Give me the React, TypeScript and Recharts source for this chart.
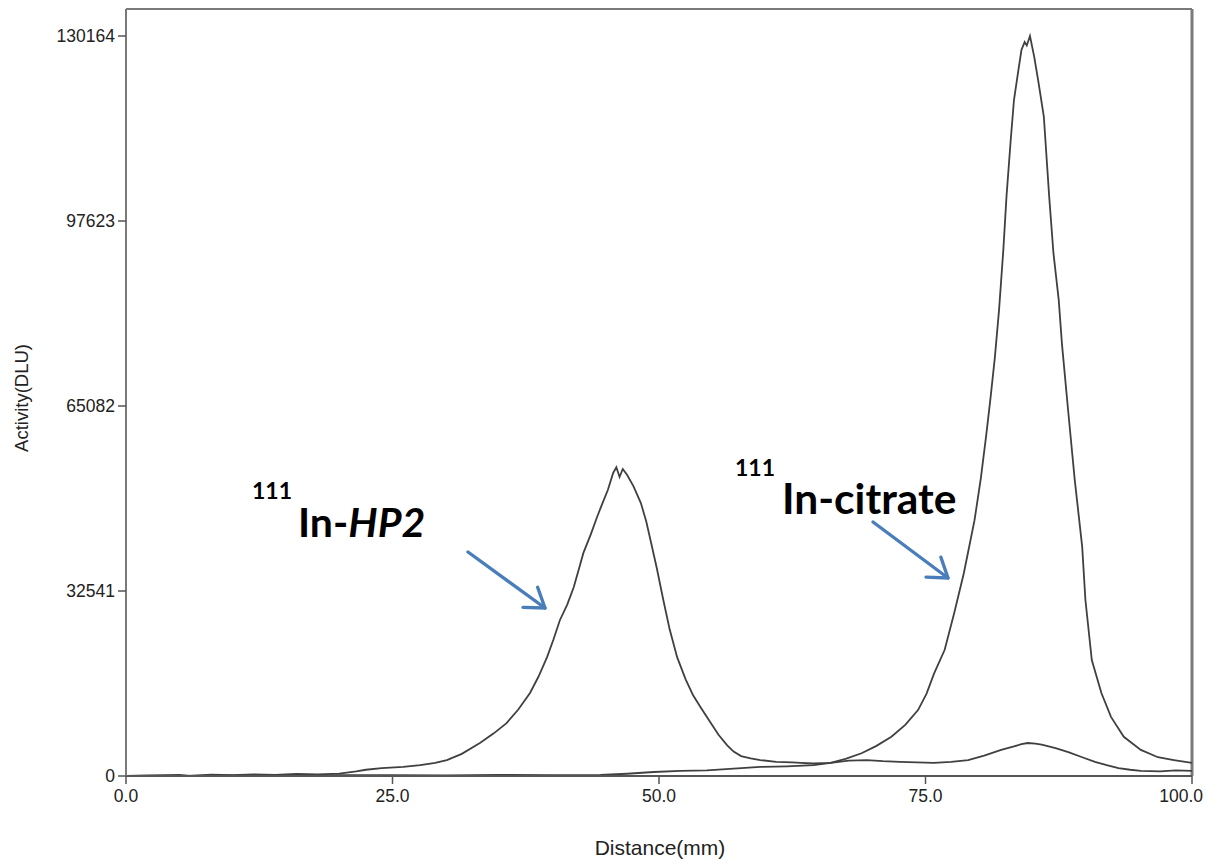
import { CartesianGrid, Line, LineChart, ReferenceLine, XAxis, YAxis } from "recharts";

// radio-TLC scan, distance (mm) vs activity (DLU)
const hp2Distance = [
  0, 2, 5, 6, 8, 10, 12, 14, 16, 18, 20, 21.6, 22.5, 24, 26, 27.6, 29, 30.1, 31.5, 33.2,
  34.5, 35.7, 36.8, 37.9, 38.7, 39.5, 40.1, 40.7, 41.4, 42, 42.5, 42.9, 43.6, 44.2, 44.7,
  45.2, 45.7, 46, 46.3, 46.6, 47, 47.6, 48.3, 48.8, 49.2, 49.8, 50.4, 51, 51.7, 52.5, 53.2,
  53.9, 54.8, 55.6, 56.4, 57, 57.7, 58.6, 59.5, 61, 62.5, 63.3, 64.5, 66.1, 67.8, 69.5, 71,
  72.6, 74.2, 75.8, 77.4, 79, 80.5, 82.1, 83.3, 84, 84.6, 85.3, 85.9, 87.2, 88.4, 89.7, 90.9,
  92, 93.1, 94.2, 95.2, 97, 98.5, 100,
];
const hp2Activity = [
  0, 100, 200, 0, 250, 150, 300, 200, 350, 300, 400, 800, 1100, 1400, 1600, 1900, 2300, 2800,
  3900, 5800, 7500, 9300, 11700, 14600, 17500, 20900, 24000, 27400, 30200, 33200, 36500, 39200,
  42500, 45600, 48000, 50300, 53300, 54300, 52600, 54000, 53000, 51000, 48000, 44800, 41500,
  36500, 31000, 25800, 20900, 17000, 14200, 12100, 9500, 7200, 5400, 4300, 3500, 3100, 2800,
  2500, 2400, 2300, 2200, 2300, 2700, 2800, 2600, 2500, 2400, 2300, 2500, 2800, 3600, 4600,
  5200, 5600, 5800, 5700, 5500, 4900, 4200, 3300, 2500, 1900, 1400, 1100, 900, 800, 1000, 900,
];

const citrateDistance = [
  0, 5, 10, 15, 20, 25, 30, 35, 40, 44.5, 47, 49.5, 52, 54.5, 57, 59.5, 62, 64.5, 66.1, 67.5,
  69, 70.4, 71.8, 73.1, 74.3, 75.1, 75.8, 76.8, 77.7, 78.6, 79.6, 80.2, 80.7, 81.1, 81.5, 81.9,
  82.3, 82.6, 83, 83.3, 83.7, 84, 84.3, 84.5, 84.8, 85.2, 85.6, 86.1, 86.6, 87, 87.5, 87.8, 88.4,
  89, 89.7, 90, 90.6, 91.5, 92.4, 93.6, 95.2, 96.8, 98.3, 100,
];
const citrateActivity = [
  0, 0, 100, 0, 150, 150, 100, 200, 150, 200, 400, 700, 900, 1000, 1300, 1600, 1700, 1900, 2300,
  3000, 4000, 5300, 6900, 9000, 11600, 14500, 18000, 22200, 28700, 35700, 45000, 52500, 60000,
  66500, 73500, 82000, 92500, 102000, 112000, 118900, 124000, 127700, 129100, 128500, 130164,
  126500, 122000, 116000, 102000, 92000, 83700, 76000, 63900, 52100, 40300, 31000, 20400, 14600,
  10400, 6900, 4600, 3300, 2800, 2300,
];

const xTicks = [0, 25, 50, 75, 100];
const yTicks = [0, 32541, 65082, 97623, 130164];
const Y_MAX = 134913;

const hp2Data = hp2Distance.map((d, i) => ({ d, v: hp2Activity[i] }));
const citrateData = citrateDistance.map((d, i) => ({ d, v: citrateActivity[i] }));

const TRACE = "#404040";
const FRAME = "#7a7a7a";
const ARROW = "#4a7ebb";
const AXIS_FONT = "'Liberation Sans', Arial, sans-serif";
const TICK_FONT = { fill: "#222", fontSize: 17.5, fontFamily: AXIS_FONT };

function XTick(props: any) {
  const { x, y, payload } = props;
  const last = payload.value === 100;
  return (
    <text
      x={last ? x + 11 : x}
      y={y + 16}
      textAnchor={last ? "end" : "middle"}
      {...TICK_FONT}
    >
      {Number(payload.value).toFixed(1)}
    </text>
  );
}

function Arrow({ from, to }: { from: [number, number]; to: [number, number] }) {
  const dx = to[0] - from[0];
  const dy = to[1] - from[1];
  const a = Math.atan2(dy, dx);
  const len = 22;
  const spread = 0.6;
  const p1 = [to[0] - len * Math.cos(a - spread), to[1] - len * Math.sin(a - spread)];
  const p2 = [to[0] - len * Math.cos(a + spread), to[1] - len * Math.sin(a + spread)];
  return (
    <g stroke={ARROW} strokeWidth={3.4} fill="none" strokeLinecap="round" strokeLinejoin="round">
      <line x1={from[0]} y1={from[1]} x2={to[0]} y2={to[1]} />
      <polyline points={`${p1[0]},${p1[1]} ${to[0]},${to[1]} ${p2[0]},${p2[1]}`} />
    </g>
  );
}

const LABEL_FONT = "Lato, 'Open Sans', sans-serif";

export default function App() {
  return (
    <div style={{ position: "absolute", left: 0, top: 0, width: 1215, height: 865, background: "#fff" }}>
      <LineChart width={1215} height={865} margin={{ top: 9, right: 23, left: 0, bottom: 0 }}>
        <CartesianGrid horizontal={false} vertical={false} />
        <XAxis
          type="number"
          dataKey="d"
          domain={[0, 100]}
          ticks={xTicks}
          tick={<XTick />}
          height={89}
          tickSize={8}
          axisLine={{ stroke: "#555", strokeWidth: 2 }}
          tickLine={{ stroke: "#555", strokeWidth: 1.5 }}
          allowDataOverflow
        />
        <YAxis
          type="number"
          dataKey="v"
          domain={[0, Y_MAX]}
          ticks={yTicks}
          width={126}
          tickSize={8}
          tickMargin={3}
          tick={TICK_FONT}
          axisLine={{ stroke: FRAME, strokeWidth: 2 }}
          tickLine={{ stroke: "#555", strokeWidth: 1.5 }}
          allowDataOverflow
        />
        <ReferenceLine y={Y_MAX} stroke={FRAME} strokeWidth={2} />
        <ReferenceLine x={100} stroke={FRAME} strokeWidth={3} />
        <Line
          data={hp2Data}
          dataKey="v"
          type="linear"
          stroke={TRACE}
          strokeWidth={1.8}
          dot={false}
          isAnimationActive={false}
        />
        <Line
          data={citrateData}
          dataKey="v"
          type="linear"
          stroke={TRACE}
          strokeWidth={1.8}
          dot={false}
          isAnimationActive={false}
        />
      </LineChart>
      <svg
        width={1215}
        height={865}
        style={{ position: "absolute", left: 0, top: 0, pointerEvents: "none" }}
      >
        <text
          x={21}
          y={398}
          transform="rotate(-90 21 398)"
          textAnchor="middle"
          dominantBaseline="central"
          fill="#222"
          fontSize={18.5}
          fontFamily={AXIS_FONT}
        >
          Activity(DLU)
        </text>
        <text
          x={660}
          y={855}
          textAnchor="middle"
          fill="#222"
          fontSize={21}
          fontFamily={AXIS_FONT}
        >
          Distance(mm)
        </text>

        <text x={252} y={499} fontFamily={LABEL_FONT} fontWeight={700} fontSize={23} fill="#000">
          111
        </text>
        <text x={298} y={537} fontFamily={LABEL_FONT} fontWeight={700} fontSize={41} fill="#000">
          In-<tspan fontStyle="italic">HP2</tspan>
        </text>
        <text x={735} y={476} fontFamily={LABEL_FONT} fontWeight={700} fontSize={23} fill="#000">
          111
        </text>
        <text x={782} y={514} fontFamily={LABEL_FONT} fontWeight={700} fontSize={42.5} fill="#000">
          In-citrate
        </text>

        <Arrow from={[468, 552]} to={[545, 608]} />
        <Arrow from={[873, 522]} to={[948, 578]} />
      </svg>
    </div>
  );
}
